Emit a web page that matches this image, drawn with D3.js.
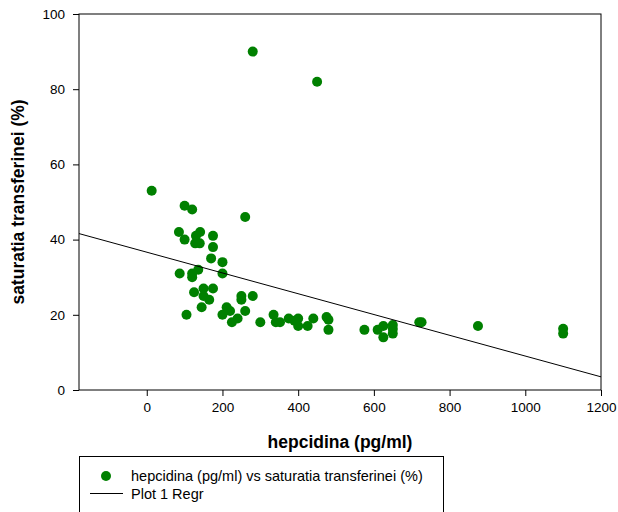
<!DOCTYPE html>
<html lang="en">
<head>
    <meta charset="UTF-8">
    <script src="https://d3js.org/d3.v7.min.js"></script>
    <title>hepcidina vs saturatia transferinei</title>
    <style>
        body { margin: 0; background: #fff; }
        svg text { font-family: "Liberation Sans", Arial, sans-serif; fill: #000; }
        .tick text { font-size: 13.5px; }
        .title { font-size: 17.5px; font-weight: bold; }
        .legend text { font-size: 14.5px; }
    </style>
</head>
<body>
<div id="chart"></div>
<script>
    // data
    var hepcidina = [13, 280, 450, 100, 120, 260, 85, 100, 130, 141, 128, 140, 175, 175, 170, 200, 200,
        87, 120, 120, 136, 125, 150, 150, 175, 165, 145, 105, 200, 211, 220, 225, 240, 250, 250, 260,
        280, 300, 335, 341, 352, 375, 390, 400, 400, 425, 440, 475, 480, 480, 575, 610, 625, 625,
        650, 650, 650, 720, 726, 875, 1100, 1100];
    var saturatia = [53, 90, 82, 49, 48, 46, 42, 40, 41, 42, 39, 39, 41, 38, 35, 34, 31,
        31, 31, 30, 32, 26, 27, 25, 27, 24, 22, 20, 20, 22, 21, 18, 19, 25, 24, 21,
        25, 18, 20, 18, 18, 19, 18.4, 19, 17, 17, 19, 19.4, 18.7, 16, 16, 16, 17, 14,
        17.3, 16.2, 15, 18, 18, 17, 16.3, 15];

    // regression line ends (Plot 1 Regr)
    var regX = [-179, 1200];
    var regY = [41.6, 3.5];

    var xTicks = [0, 200, 400, 600, 800, 1000, 1200];
    var yTicks = [0, 20, 40, 60, 80, 100];

    var width = 618, height = 512;
    var plotLeft = 79, plotRight = 601, plotTop = 14, plotBottom = 390;
    var green = "#008000";

    var svg = d3.select("#chart").append("svg")
        .attr("width", width)
        .attr("height", height);

    var x = d3.scaleLinear().domain([-179, 1200]).range([plotLeft, plotRight]);
    var y = d3.scaleLinear().domain([0, 100]).range([plotBottom, plotTop]);

    // axes
    var xAxis = svg.append("g")
        .attr("transform", "translate(0," + plotBottom + ")")
        .call(d3.axisBottom(x).tickValues(xTicks).tickFormat(d3.format("d"))
            .tickSize(6).tickSizeOuter(0).tickPadding(6));
    xAxis.select(".domain").remove();
    xAxis.selectAll(".tick line").attr("stroke", "#000");

    var yAxis = svg.append("g")
        .attr("transform", "translate(" + plotLeft + ",0)")
        .call(d3.axisLeft(y).tickValues(yTicks).tickFormat(d3.format("d"))
            .tickSize(6).tickSizeOuter(0).tickPadding(8));
    yAxis.select(".domain").remove();
    yAxis.selectAll(".tick line").attr("stroke", "#000");
    svg.selectAll("g").attr("font-family", null).attr("font-size", null);

    // frame round the plot
    svg.append("rect")
        .attr("x", plotLeft)
        .attr("y", plotTop)
        .attr("width", plotRight - plotLeft)
        .attr("height", plotBottom - plotTop)
        .attr("fill", "none")
        .attr("stroke", "#000");

    // points
    svg.append("g").selectAll("circle")
        .data(hepcidina)
        .enter()
        .append("circle")
        .attr("cx", function (d) { return x(d); })
        .attr("cy", function (d, i) { return y(saturatia[i]); })
        .attr("r", 5)
        .attr("fill", green);

    // regression line
    svg.append("line")
        .attr("x1", x(regX[0]))
        .attr("y1", y(regY[0]))
        .attr("x2", x(regX[1]))
        .attr("y2", y(regY[1]))
        .attr("stroke", "#000")
        .attr("stroke-width", 1);

    // axis titles
    svg.append("text")
        .attr("class", "title")
        .attr("x", (plotLeft + plotRight) / 2)
        .attr("y", 448)
        .attr("text-anchor", "middle")
        .text("hepcidina (pg/ml)");

    svg.append("text")
        .attr("class", "title")
        .attr("transform", "translate(24," + (plotTop + plotBottom) / 2 + ") rotate(-90)")
        .attr("text-anchor", "middle")
        .text("saturatia transferinei (%)");

    // legend
    var legend = svg.append("g").attr("class", "legend");
    legend.append("rect")
        .attr("x", 79.5)
        .attr("y", 456.5)
        .attr("width", 364)
        .attr("height", 80)
        .attr("fill", "#fff")
        .attr("stroke", "#000");
    legend.append("circle")
        .attr("cx", 106)
        .attr("cy", 476)
        .attr("r", 5)
        .attr("fill", green);
    legend.append("text")
        .attr("x", 131)
        .attr("y", 481)
        .text("hepcidina (pg/ml) vs saturatia transferinei (%)");
    legend.append("line")
        .attr("x1", 90)
        .attr("x2", 123)
        .attr("y1", 493.5)
        .attr("y2", 493.5)
        .attr("stroke", "#000");
    legend.append("text")
        .attr("x", 131)
        .attr("y", 498.5)
        .text("Plot 1 Regr");
</script>
</body>
</html>
